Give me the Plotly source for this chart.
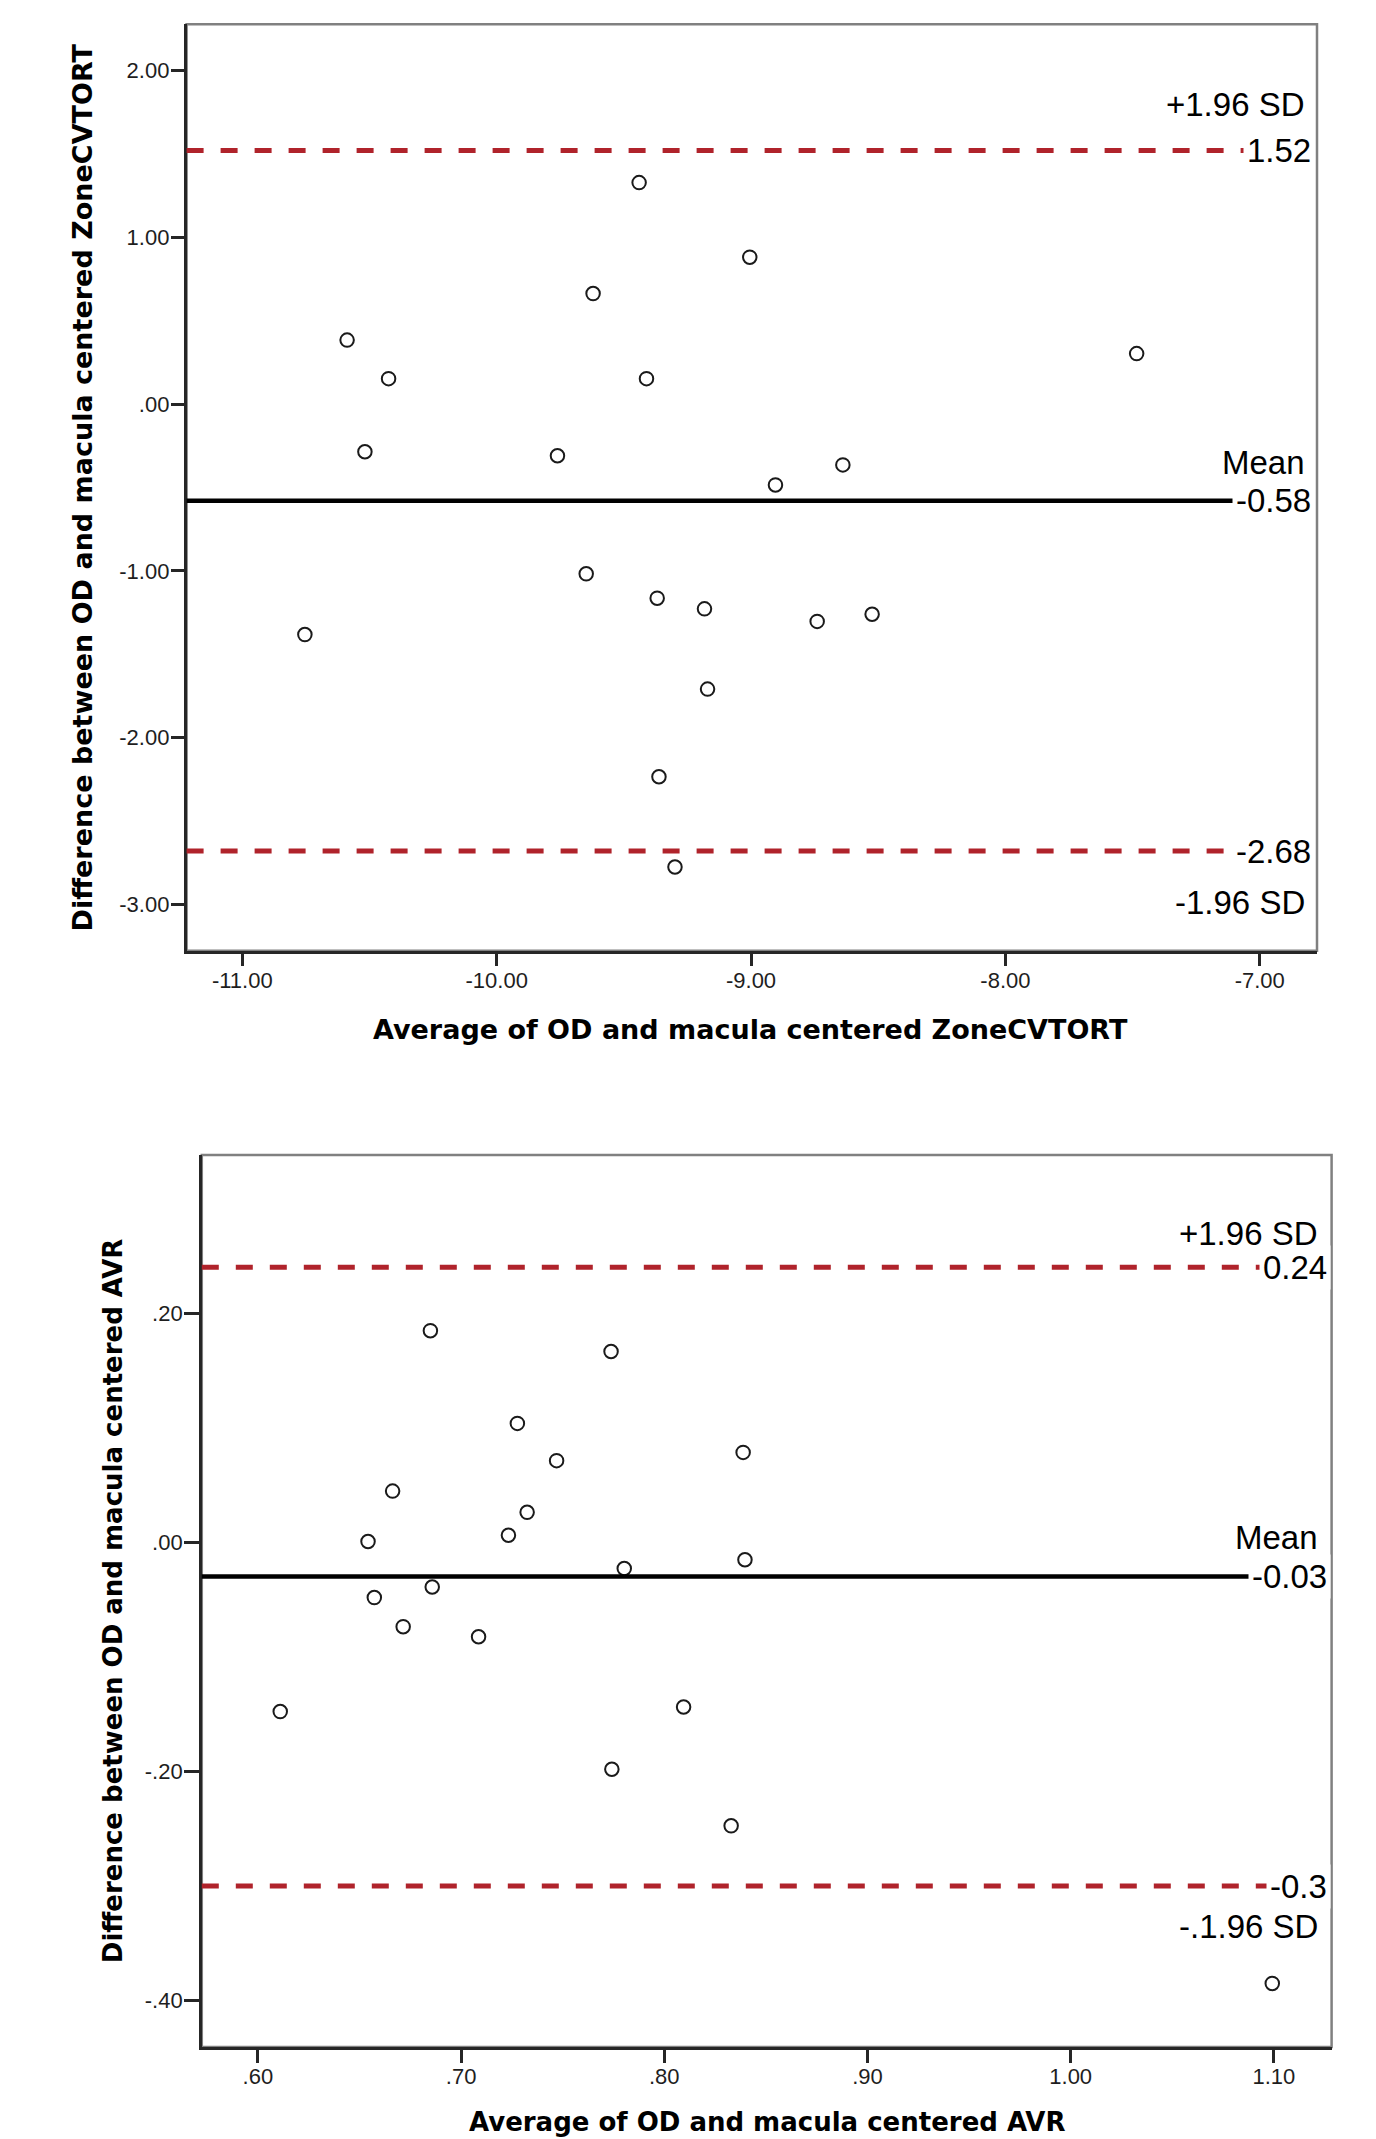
import plotly.graph_objects as go

# ---------------- Data: chart 1 (ZoneCVTORT) ----------------
zone_avg = [-9.440, -9.621, -10.588, -10.425, -9.411, -10.518, -9.761,
            -9.005, -7.484, -8.639, -8.904,
            -9.648, -9.369, -9.183, -10.754, -9.362, -9.299,
            -8.740, -8.524, -9.171]
zone_diff = [1.327, 0.662, 0.383, 0.152, 0.152, -0.286, -0.310,
             0.880, 0.302, -0.365, -0.485,
             -1.018, -1.164, -1.228, -1.382, -2.234, -2.775,
             -1.303, -1.260, -1.709]
zone_lines = [1.52, -0.58, -2.68]                 # upper LoA, mean, lower LoA
zone_value_labels = ["1.52", "-0.58", "-2.68"]
zone_name_labels = ["+1.96 SD", "Mean", "-1.96 SD"]
zone_xticks = [-11, -10, -9, -8, -7]
zone_xticktext = ["-11.00", "-10.00", "-9.00", "-8.00", "-7.00"]
zone_yticks = [2, 1, 0, -1, -2, -3]
zone_yticktext = ["2.00", "1.00", ".00", "-1.00", "-2.00", "-3.00"]
zone_xtitle = "Average of OD and macula centered ZoneCVTORT"
zone_ytitle = "Difference between OD and macula centered ZoneCVTORT"

# ---------------- Data: chart 2 (AVR) ----------------
avr_avg = [0.6849, 0.7738, 0.7277, 0.7470, 0.6663, 0.7325, 0.7233, 0.6542,
           0.7803, 0.6858, 0.6573, 0.6715, 0.7086,
           0.8388, 0.8397,
           0.6110, 0.8095, 0.7742,
           0.8329, 1.0992]
avr_diff = [0.1846, 0.1664, 0.1037, 0.0712, 0.0446, 0.0261, 0.0061, 0.0006,
            -0.0229, -0.0391, -0.0483, -0.0737, -0.0825,
            0.0784, -0.0153,
            -0.1478, -0.1438, -0.1981,
            -0.2475, -0.3850]
avr_lines = [0.24, -0.03, -0.30]
avr_value_labels = ["0.24", "-0.03", "-0.3"]
avr_name_labels = ["+1.96 SD", "Mean", "-.1.96 SD"]
avr_xticks = [0.6, 0.7, 0.8, 0.9, 1.0, 1.1]
avr_xticktext = [".60", ".70", ".80", ".90", "1.00", "1.10"]
avr_yticks = [0.2, 0.0, -0.2, -0.4]
avr_yticktext = [".20", ".00", "-.20", "-.40"]
avr_xtitle = "Average of OD and macula centered AVR"
avr_ytitle = "Difference between OD and macula centered AVR"

W, H = 1376, 2139
TICK_FONT = dict(family="Arial, Liberation Sans, sans-serif", size=22, color="#1e1e1e")
LBL_FONT = dict(family="Arial, Liberation Sans, sans-serif", size=33, color="#000000")
RED = "#b0232b"

fig = go.Figure()

fig.add_trace(go.Scatter(x=zone_avg, y=zone_diff, mode="markers", xaxis="x", yaxis="y",
                         marker=dict(symbol="circle-open", size=13.5, color="#1a1a1a",
                                     line=dict(width=2, color="#1a1a1a")),
                         showlegend=False, hoverinfo="x+y"))
fig.add_trace(go.Scatter(x=avr_avg, y=avr_diff, mode="markers", xaxis="x2", yaxis="y2",
                         marker=dict(symbol="circle-open", size=13.5, color="#1a1a1a",
                                     line=dict(width=2, color="#1a1a1a")),
                         showlegend=False, hoverinfo="x+y"))

def axis_common(is_x, ticklen=13):
    d = dict(showline=True, linecolor="#262626", linewidth=2.5, mirror=False,
             ticks="outside", ticklen=ticklen, tickwidth=2.5, tickcolor="#262626",
             showgrid=False, zeroline=False, tickfont=TICK_FONT, fixedrange=True)
    d["ticklabelstandoff"] = -5 if is_x else -3
    return d

fig.update_layout(
    width=W, height=H, margin=dict(l=0, r=0, t=0, b=0),
    paper_bgcolor="white", plot_bgcolor="white",
    xaxis=dict(domain=[186.6 / W, 1317 / W], range=[-11.219, -6.775], anchor="y",
               tickvals=zone_xticks, ticktext=zone_xticktext, **axis_common(True)),
    yaxis=dict(domain=[1 - 950.7 / H, 1 - 24.3 / H], range=[-3.277, 2.276], anchor="x",
               tickvals=zone_yticks, ticktext=zone_yticktext, **axis_common(False)),
    xaxis2=dict(domain=[201.8 / W, 1331.6 / W], range=[0.5724, 1.1284], anchor="y2",
                tickvals=avr_xticks, ticktext=avr_xticktext, **axis_common(True)),
    yaxis2=dict(domain=[1 - 2047 / H, 1 - 1154.9 / H], range=[-0.4405, 0.338], anchor="x2",
                tickvals=avr_yticks, ticktext=avr_yticktext, **axis_common(False, 15)),
)

shapes = []
annotations = []

def add_chart(xr, yr, lines, value_labels, name_labels, name_shift, name_xshift, val_xshift):
    # gray frame (top/right appear gray)
    shapes.append(dict(type="rect", xref=f"{xr} domain", yref=f"{yr} domain",
                       x0=0, x1=1, y0=0, y1=1, line=dict(color="#808080", width=2.5),
                       layer="below"))
    styles = [dict(color=RED, width=5, dash="17px,17px"),
              dict(color="#000000", width=4.5),
              dict(color=RED, width=5, dash="17px,17px")]
    for val, st in zip(lines, styles):
        shapes.append(dict(type="line", xref=f"{xr} domain", yref=yr,
                           x0=0, x1=0.985, y0=val, y1=val, line=st, layer="above"))
    for val, vtxt, ntxt, ns in zip(lines, value_labels, name_labels, name_shift):
        annotations.append(dict(xref=f"{xr} domain", yref=yr, x=1, y=val, text=vtxt,
                                showarrow=False, xanchor="right", yanchor="middle",
                                xshift=val_xshift, font=LBL_FONT, bgcolor="white",
                                borderpad=3))
        annotations.append(dict(xref=f"{xr} domain", yref=yr, x=1, y=val, text=ntxt,
                                showarrow=False, xanchor="right", yanchor="middle",
                                xshift=name_xshift, yshift=ns, font=LBL_FONT))

add_chart("x", "y", zone_lines, zone_value_labels, zone_name_labels,
          [46, 38, -51], -10, -2)
add_chart("x2", "y2", avr_lines, avr_value_labels, avr_name_labels,
          [34, 39, -40], -12, -1)

TITLE_FONT = dict(family="DejaVu Sans, Arial, sans-serif", size=27, color="#000000")
TITLE_FONT2 = dict(family="DejaVu Sans, Arial, sans-serif", size=26, color="#000000")
annotations += [
    dict(xref="paper", yref="paper", x=750 / W, y=1 - 1029 / H, text=f"<b>{zone_xtitle}</b>",
         showarrow=False, xanchor="center", yanchor="middle", font=TITLE_FONT),
    dict(xref="paper", yref="paper", x=82 / W, y=1 - 487.5 / H, text=f"<b>{zone_ytitle}</b>",
         showarrow=False, xanchor="center", yanchor="middle", textangle=-90, font=TITLE_FONT),
    dict(xref="paper", yref="paper", x=766.5 / W, y=1 - 2122 / H, text=f"<b>{avr_xtitle}</b>",
         showarrow=False, xanchor="center", yanchor="middle", font=TITLE_FONT2),
    dict(xref="paper", yref="paper", x=112.7 / W, y=1 - 1600.5 / H, text=f"<b>{avr_ytitle}</b>",
         showarrow=False, xanchor="center", yanchor="middle", textangle=-90, font=TITLE_FONT2),
]

fig.update_layout(shapes=shapes, annotations=annotations)

fig.write_html("out.html", config={"displayModeBar": False},
               post_script="document.body.style.margin='0';document.body.style.overflow='hidden';")
